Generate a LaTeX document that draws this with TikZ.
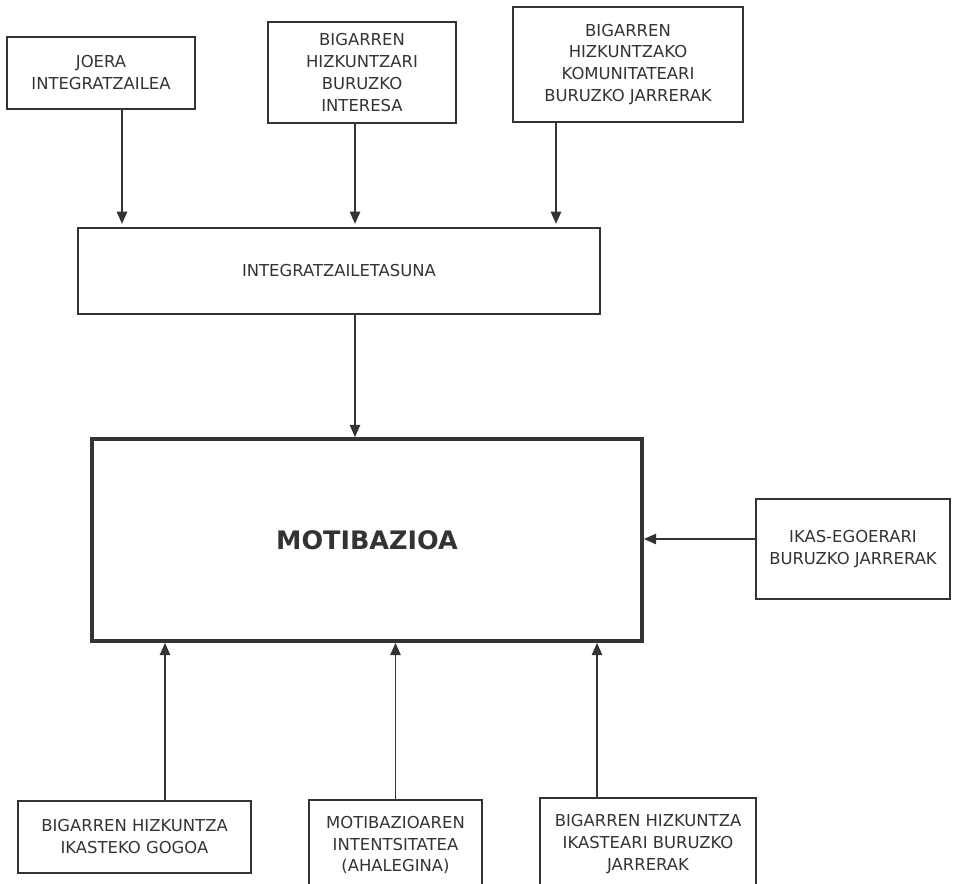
\documentclass[tikz,border=0pt]{standalone}
\usepackage{fontspec}
\setmainfont{DejaVu Sans}
\usetikzlibrary{arrows.meta}

\begin{document}
\begin{tikzpicture}[x=0.02cm,y=-0.02cm]
\tikzstyle{every node}+=[inner sep=0pt]
\tikzstyle{box}=[draw=black!80,line width=0.75pt,align=center,text=black!80,font=\fontsize{9.35}{12.5}\selectfont]
\tikzstyle{arr}=[draw=black!80,line width=0.7pt,-{Triangle[width=6pt,length=7pt]}]
\clip (0,0) rectangle (954,884);
\node[box,minimum width=3.76cm,minimum height=1.44cm] (joera) at (101,73) {JOERA\\INTEGRATZAILEA};
\node[box,minimum width=3.76cm,minimum height=2.02cm] (interesa) at (362,72.5) {BIGARREN\\HIZKUNTZARI\\BURUZKO\\INTERESA};
\node[box,minimum width=4.6cm,minimum height=2.3cm] (komunitatea) at (628,64.5) {BIGARREN\\HIZKUNTZAKO\\KOMUNITATEARI\\BURUZKO JARRERAK};
\node[box,minimum width=10.44cm,minimum height=1.72cm] (integr) at (339,271) {INTEGRATZAILETASUNA};
\node[box,line width=2.2pt,minimum width=11cm,minimum height=4.04cm,font=\fontsize{14.5}{17}\selectfont\bfseries] (motib) at (367,540) {MOTIBAZIOA};
\node[box,minimum width=3.88cm,minimum height=2cm] (ikas) at (853,549) {IKAS-EGOERARI\\BURUZKO JARRERAK};
\node[box,minimum width=4.66cm,minimum height=1.44cm] (gogoa) at (134.5,837) {BIGARREN HIZKUNTZA\\IKASTEKO GOGOA};
\node[box,minimum width=3.46cm,minimum height=1.8cm] (intents) at (395.5,845) {MOTIBAZIOAREN\\INTENTSITATEA\\(AHALEGINA)};
\node[box,minimum width=4.32cm,minimum height=1.84cm] (ikastea) at (648,844) {BIGARREN HIZKUNTZA\\IKASTEARI BURUZKO\\JARRERAK};
\draw[arr,shorten >=2pt] ([xshift=0.42cm]joera.south) coordinate (j1) -- (j1 |- integr.north);
\draw[arr,shorten >=2pt] ([xshift=-0.14cm]interesa.south) coordinate (j2) -- (j2 |- integr.north);
\draw[arr,shorten >=2pt] ([xshift=-1.44cm]komunitatea.south) coordinate (j3) -- (j3 |- integr.north);
\draw[arr] ([xshift=0.32cm]integr.south) coordinate (j4) -- (j4 |- motib.north);
\draw[arr] ([yshift=0.2cm]ikas.west) coordinate (j5) -- (j5 -| motib.east);
\draw[arr] ([xshift=0.61cm]gogoa.north) coordinate (j6) -- (j6 |- motib.south);
\draw[arr] (intents.north) -- (intents.north |- motib.south);
\draw[arr] ([xshift=-1.02cm]ikastea.north) coordinate (j7) -- (j7 |- motib.south);
\end{tikzpicture}
\end{document}
